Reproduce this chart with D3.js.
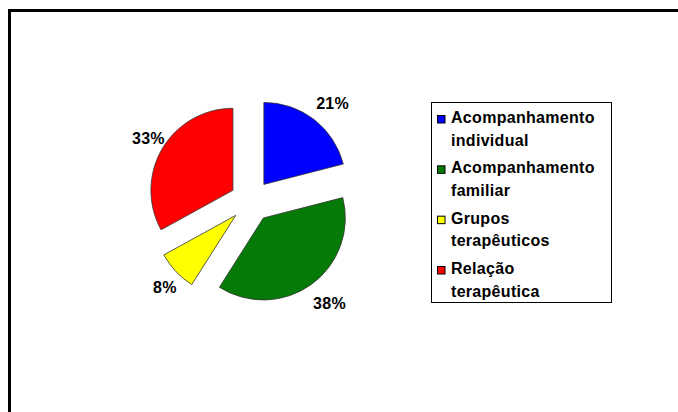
<!DOCTYPE html>
<html>
<head>
<meta charset="utf-8">
<script src="https://cdn.jsdelivr.net/npm/d3@7"></script>
<style>
  html, body { margin: 0; padding: 0; background: #fff; }
  svg { display: block; }
  text { font-family: Arial, "Liberation Sans", sans-serif; font-weight: bold; font-size: 16px; fill: #000; letter-spacing: 0.3px; }
</style>
</head>
<body>
<svg id="chart" width="678" height="412"></svg>
<script>
// Share of each type of intervention (%)
const categories = [
  ["Acompanhamento", "individual"],
  ["Acompanhamento", "familiar"],
  ["Grupos", "terapêuticos"],
  ["Relação", "terapêutica"]
];
const values = [21, 38, 8, 33];
const colors = ["#0000ff", "#067a06", "#ffff00", "#ff0000"];

const svg = d3.select("#chart");
const W = 678, H = 412;

// Outer frame
svg.append("rect")
  .attr("x", 9.5).attr("y", 10.5)
  .attr("width", W + 20).attr("height", H + 20)
  .attr("fill", "#fff").attr("stroke", "#000").attr("stroke-width", 3);

// Exploded pie
const cx = 251, cy = 201, R = 82, explode = 21, labelR = 125;
const pie = d3.pie().sort(null).value(d => d)(values);
const arc = d3.arc().innerRadius(0).outerRadius(R);
const labelArc = d3.arc().innerRadius(labelR).outerRadius(labelR);

const g = svg.append("g").attr("transform", `translate(${cx},${cy})`);

g.selectAll("path.slice")
  .data(pie)
  .join("path")
  .attr("class", "slice")
  .attr("d", arc)
  .attr("transform", d => {
    const a = (d.startAngle + d.endAngle) / 2;
    return `translate(${explode * Math.sin(a)},${-explode * Math.cos(a)})`;
  })
  .attr("fill", (d, i) => colors[i])
  .attr("stroke", "#333")
  .attr("stroke-width", 0.8);

g.selectAll("text.pct")
  .data(pie)
  .join("text")
  .attr("class", "pct")
  .attr("x", d => labelArc.centroid(d)[0] + 5)
  .attr("y", d => labelArc.centroid(d)[1] + 1)
  .attr("text-anchor", "middle")
  .attr("dominant-baseline", "central")
  .text(d => d3.format(".0f")(d.data) + "%");

// Legend
const lx = 431.5, ly = 102.5, lw = 180, lh = 200;
svg.append("rect")
  .attr("x", lx).attr("y", ly).attr("width", lw).attr("height", lh)
  .attr("fill", "#fff").attr("stroke", "#000").attr("stroke-width", 1);

const itemY = d3.scaleLinear().domain([0, 3]).range([123, 274]);
const items = svg.selectAll("g.item")
  .data(categories)
  .join("g")
  .attr("class", "item")
  .attr("transform", (d, i) => `translate(0,${itemY(i)})`);

items.append("rect")
  .attr("x", 437.5).attr("y", -7.5)
  .attr("width", 7.5).attr("height", 7.5)
  .attr("fill", (d, i) => colors[i])
  .attr("stroke", "#000").attr("stroke-width", 1);

items.append("text")
  .attr("x", 451).attr("y", 0)
  .text(d => d[0]);
items.append("text")
  .attr("x", 451).attr("y", 22.5)
  .text(d => d[1]);
</script>
</body>
</html>
